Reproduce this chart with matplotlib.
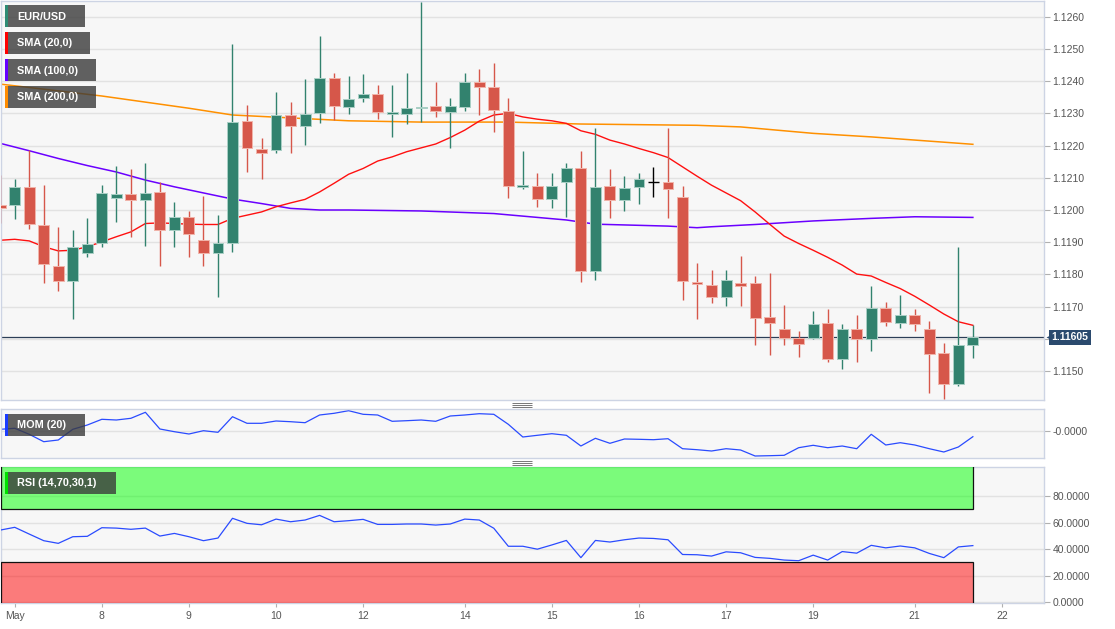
import matplotlib
matplotlib.use('Agg')
import matplotlib.pyplot as plt
from matplotlib.patches import Rectangle
from matplotlib.transforms import blended_transform_factory

plt.rcParams['font.family'] = ['Liberation Sans', 'DejaVu Sans']

# EUR/USD 4h candles, bar 0 = May 7 00:00 (bar -1 is cut by the left edge)
bars = list(range(-1, 67))
opens = [1.12015, 1.12015, 1.12072, 1.11953, 1.11827, 1.11781, 1.11867, 1.11896, 1.12038, 1.12051,
         1.12031, 1.12056, 1.11937, 1.11977, 1.11906, 1.11865, 1.11898, 1.12277, 1.12189, 1.12186,
         1.12295, 1.12261, 1.12300, 1.12409, 1.12320, 1.12348, 1.12359, 1.12299, 1.12299, 1.12317,
         1.12323, 1.12305, 1.12320, 1.12396, 1.12381, 1.12308, 1.12072, 1.12076, 1.12033, 1.12088,
         1.12131, 1.11810, 1.12074, 1.12030, 1.12070, 1.12086, 1.12088, 1.12041, 1.11777, 1.11767,
         1.11730, 1.11774, 1.11772, 1.11668, 1.11632, 1.11604, 1.11604, 1.11648, 1.11538, 1.11629,
         1.11600, 1.11696, 1.11650, 1.11673, 1.11632, 1.11556, 1.11459, 1.11580]
highs = [1.12110, 1.12095, 1.12186, 1.12077, 1.11948, 1.11938, 1.11974, 1.12077, 1.12136, 1.12127,
         1.12145, 1.12088, 1.12024, 1.11996, 1.12044, 1.11984, 1.12517, 1.12326, 1.12225, 1.12365,
         1.12334, 1.12406, 1.12540, 1.12426, 1.12416, 1.12422, 1.12388, 1.12388, 1.12426, 1.12647,
         1.12398, 1.12347, 1.12424, 1.12438, 1.12455, 1.12347, 1.12184, 1.12114, 1.12114, 1.12145,
         1.12184, 1.12256, 1.12126, 1.12105, 1.12114, 1.12134, 1.12256, 1.12075, 1.11834, 1.11815,
         1.11815, 1.11857, 1.11795, 1.11803, 1.11705, 1.11624, 1.11686, 1.11694, 1.11645, 1.11673,
         1.11764, 1.11715, 1.11736, 1.11694, 1.11655, 1.11586, 1.11884, 1.11642]
lows = [1.11960, 1.11971, 1.11940, 1.11772, 1.11749, 1.11663, 1.11853, 1.11886, 1.11963, 1.11915,
        1.11889, 1.11826, 1.11884, 1.11855, 1.11827, 1.11730, 1.11870, 1.12119, 1.12095, 1.12176,
        1.12176, 1.12202, 1.12269, 1.12279, 1.12298, 1.12334, 1.12284, 1.12227, 1.12266, 1.12274,
        1.12288, 1.12191, 1.12307, 1.12294, 1.12243, 1.12036, 1.12064, 1.12010, 1.12005, 1.11979,
        1.11777, 1.11784, 1.11974, 1.11997, 1.12018, 1.12039, 1.11974, 1.11720, 1.11663, 1.11712,
        1.11702, 1.11702, 1.11582, 1.11551, 1.11582, 1.11542, 1.11599, 1.11528, 1.11505, 1.11528,
        1.11563, 1.11640, 1.11634, 1.11624, 1.11432, 1.11412, 1.11455, 1.11539]
closes = [1.12005, 1.12072, 1.11958, 1.11831, 1.11781, 1.11885, 1.11894, 1.12053, 1.12051, 1.12031,
          1.12053, 1.11938, 1.11979, 1.11925, 1.11865, 1.11896, 1.12274, 1.12191, 1.12176, 1.12295,
          1.12261, 1.12298, 1.12411, 1.12323, 1.12345, 1.12359, 1.12305, 1.12305, 1.12317, 1.12320,
          1.12308, 1.12322, 1.12396, 1.12383, 1.12311, 1.12074, 1.12077, 1.12034, 1.12074, 1.12131,
          1.11810, 1.12072, 1.12031, 1.12069, 1.12095, 1.12086, 1.12065, 1.11779, 1.11771, 1.11730,
          1.11782, 1.11764, 1.11666, 1.11650, 1.11604, 1.11583, 1.11646, 1.11538, 1.11629, 1.11600,
          1.11696, 1.11651, 1.11673, 1.11645, 1.11552, 1.11461, 1.11582, 1.11605]

sma20 = [1.11906, 1.11909, 1.11904, 1.11886, 1.11873, 1.11875, 1.11886, 1.11901, 1.11917, 1.11932,
         1.11958, 1.11960, 1.11958, 1.11956, 1.11955, 1.11955, 1.11974, 1.11984, 1.11994, 1.12010,
         1.12022, 1.12033, 1.12056, 1.12083, 1.12111, 1.12129, 1.12152, 1.12165, 1.12181, 1.12193,
         1.12205, 1.12225, 1.12248, 1.12276, 1.12295, 1.12300, 1.12289, 1.12282, 1.12277, 1.12269,
         1.12246, 1.12235, 1.12217, 1.12205, 1.12191, 1.12178, 1.12163, 1.12134, 1.12105, 1.12077,
         1.12053, 1.12029, 1.11994, 1.11956, 1.11919, 1.11896, 1.11875, 1.11853, 1.11829, 1.11801,
         1.11795, 1.11775, 1.11756, 1.11732, 1.11705, 1.11677, 1.11653, 1.11642]
sma100_bars = [-1, 1, 3, 5, 7, 9, 11, 13, 15, 17, 19, 21, 23, 28, 33, 35, 38, 40, 45, 47, 48, 51, 55, 59, 62, 66]
sma100 = [1.12207, 1.12184, 1.12160, 1.12138, 1.12118, 1.12093, 1.12072, 1.12053, 1.12034, 1.12020,
          1.12005, 1.12000, 1.12000, 1.11997, 1.11989, 1.11981, 1.11969, 1.11956, 1.11950, 1.11945,
          1.11948, 1.11955, 1.11966, 1.11974, 1.11979, 1.11977]
sma200_bars = [-1, 6, 12, 15, 23, 28, 34, 39, 47, 50, 55, 59, 66]
sma200 = [1.12391, 1.12354, 1.12316, 1.12295, 1.12277, 1.12273, 1.12273, 1.12267, 1.12263, 1.12258,
          1.12238, 1.12227, 1.12204]

mom = [0.00017, 0.00027, -0.00033, -0.00107, -0.00090, 0.00017, 0.00060, 0.00117, 0.00110, 0.00127,
       0.00187, 0.00020, -0.00007, -0.00030, 0.00003, -0.00013, 0.00143, 0.00077, 0.00077, 0.00100,
       0.00093, 0.00083, 0.00160, 0.00177, 0.00203, 0.00167, 0.00160, 0.00097, 0.00103, 0.00110,
       0.00097, 0.00150, 0.00160, 0.00173, 0.00167, 0.00067, -0.00060, -0.00043, -0.00027, -0.00043,
       -0.00150, -0.00073, -0.00123, -0.00080, -0.00083, -0.00087, -0.00077, -0.00177, -0.00187, -0.00200,
       -0.00177, -0.00190, -0.00250, -0.00247, -0.00243, -0.00167, -0.00143, -0.00167, -0.00150, -0.00177,
       -0.00033, -0.00140, -0.00117, -0.00140, -0.00177, -0.00210, -0.00160, -0.00057]
rsi = [54.3, 56.4, 51.3, 46.3, 44.3, 49.3, 49.6, 56.1, 55.8, 54.9,
       55.8, 49.8, 51.8, 49.3, 46.3, 48.3, 63.2, 59.4, 58.3, 62.6,
       60.6, 61.9, 65.4, 60.6, 61.4, 62.4, 58.6, 58.6, 58.9, 58.9,
       58.1, 58.9, 62.6, 61.9, 55.7, 42.1, 42.1, 39.9, 43.1, 46.5,
       33.5, 46.5, 45.3, 47.0, 48.3, 48.0, 47.0, 35.9, 35.7, 34.7,
       37.9, 37.2, 33.7, 33.0, 31.7, 31.2, 35.4, 31.7, 38.1, 36.9,
       42.8, 40.9, 42.3, 40.9, 36.7, 33.5, 41.6, 42.6]

price_ticks = [1.1150, 1.1160, 1.1170, 1.1180, 1.1190, 1.1200, 1.1210, 1.1220, 1.1230, 1.1240, 1.1250, 1.1260]
price_labels = ['1.1150', '', '1.1170', '1.1180', '1.1190', '1.1200', '1.1210', '1.1220', '1.1230', '1.1240', '1.1250', '1.1260']
rsi_ticks = [0, 20, 40, 60, 80]
rsi_labels = ['0.0000', '20.0000', '40.0000', '60.0000', '80.0000']
day_bars = [0, 6, 12, 18, 24, 31, 37, 43, 49, 55, 62, 68]
day_labels = ['May', '8', '9', '10', '12', '14', '15', '16', '17', '19', '21', '22']
legend_names = ['EUR/USD', 'SMA (20,0)', 'SMA (100,0)', 'SMA (200,0)']

W, H = 1115, 629
fig = plt.figure(figsize=(W / 100, H / 100), dpi=100)
fig.patch.set_facecolor('white')


def panel(y0, y1):
    return fig.add_axes([0.5 / W, 1 - y1 / H, 1043.5 / W, (y1 - y0) / H])


ax = panel(1, 400)
axm = panel(409, 458)
axr = panel(467, 603)

for a in (ax, axm, axr):
    a.set_facecolor('#f7f7f7')
    a.set_xlim(-0.98, 70.9)
    for s in a.spines.values():
        s.set_color('#cdd4e4')
        s.set_linewidth(1)
    a.yaxis.tick_right()
    a.tick_params(axis='y', direction='out', length=4, width=0.8, color='#b0b0b0',
                  labelcolor='#555555', labelsize=7.5, pad=2)
    a.tick_params(axis='x', bottom=False, labelbottom=False)
    a.grid(axis='y', color='#e2e2e2', lw=1)
    a.set_axisbelow(True)

# price panel
up_c, dn_c = '#32826e', '#d6574a'
for i, o, h, l, c in zip(bars, opens, highs, lows, closes):
    if c > o:
        col, edge = up_c, '#a9cfc5'
    elif c < o:
        col, edge = dn_c, '#f1b4aa'
    else:
        col, edge = 'black', 'black'
    ax.vlines(i, l, h, color=col, lw=1, zorder=3)
    if c == o:
        ax.hlines(o, i - 0.37, i + 0.37, color=col, lw=1, zorder=4)
    else:
        ax.bar(i, abs(c - o), bottom=min(o, c), width=0.75, color=col,
               edgecolor=edge, linewidth=0.7, zorder=4)

ax.plot(sma200_bars, sma200, color='#ff9000', lw=1.1, zorder=2)
ax.plot(sma100_bars, sma100, color='#6a00ff', lw=1.1, zorder=2)
ax.plot(bars, sma20, color='#ff1010', lw=1.0, zorder=2)

last = closes[-1]
ax.axhline(last, color='#2c3e57', lw=0.9, zorder=2.5)
ax.set_ylim(1.11410, 1.12649)
ax.set_yticks(price_ticks, price_labels)

tr = blended_transform_factory(ax.transAxes, ax.transData)
ax.text(1.0074, last, '%.5f' % last, transform=tr, ha='left', va='center', color='white',
        fontsize=7.5, fontweight='bold', clip_on=False, zorder=10,
        bbox=dict(boxstyle='square,pad=0.25', fc='#2b4a6e', ec='none'))
ax.plot([1.0052], [last], marker='<', ms=4, color='#2b4a6e', mec='none', transform=tr,
        clip_on=False, zorder=10)

# momentum
axm.plot(bars, mom, color='#2a4bff', lw=0.9)
axm.set_ylim(-0.0027, 0.0022)
axm.set_yticks([0], ['-0.0000'])

# RSI
axr.add_patch(Rectangle((-0.98, 70), 66.98, 40, fc=(0, 1, 0, 0.5), ec='#111111', lw=0.9, zorder=3))
axr.add_patch(Rectangle((-0.98, -5), 66.98, 35, fc=(1, 0, 0, 0.5), ec='#111111', lw=0.9, zorder=3))
axr.plot(bars, rsi, color='#2a4bff', lw=0.9, zorder=5)
axr.set_ylim(-0.7, 101.9)
axr.set_yticks(rsi_ticks, rsi_labels)
axr.set_xticks(day_bars, day_labels)
axr.tick_params(axis='x', bottom=True, labelbottom=True, length=3, width=0.8, color='#b0b0b0',
                labelcolor='#555555', labelsize=7.5, pad=3)

# overlay in pixel coordinates: legend tags and panel handles
ov = fig.add_axes([0, 0, 1, 1])
ov.set_xlim(0, W)
ov.set_ylim(H, 0)
ov.axis('off')
ov.patch.set_alpha(0)


def tag(x0, y0, w, txt, strip):
    ov.add_patch(Rectangle((x0, y0), w, 22, fc='#3a3a3a', alpha=0.8, ec='none'))
    ov.add_patch(Rectangle((x0, y0), 3, 22, fc=strip, ec='none'))
    ov.text(x0 + 12, y0 + 11.5, txt, color='white', fontsize=7.8, fontweight='bold',
            va='center', ha='left')


tag(5, 5, 80, legend_names[0], '#2e8b74')
tag(5, 32, 85, legend_names[1], '#ff0000')
tag(5, 59, 91, legend_names[2], '#6600ff')
tag(5, 86, 91, legend_names[3], '#ff8c00')
tag(5, 414, 80, 'MOM (20)', '#1a3cff')
tag(5, 472, 111, 'RSI (14,70,30,1)', '#00e000')

for yc in (405, 463):
    ov.hlines([yc - 2, yc, yc + 2], 512, 532, color='#777777', lw=0.7)

fig.savefig('out.png', dpi=100, facecolor='white')
